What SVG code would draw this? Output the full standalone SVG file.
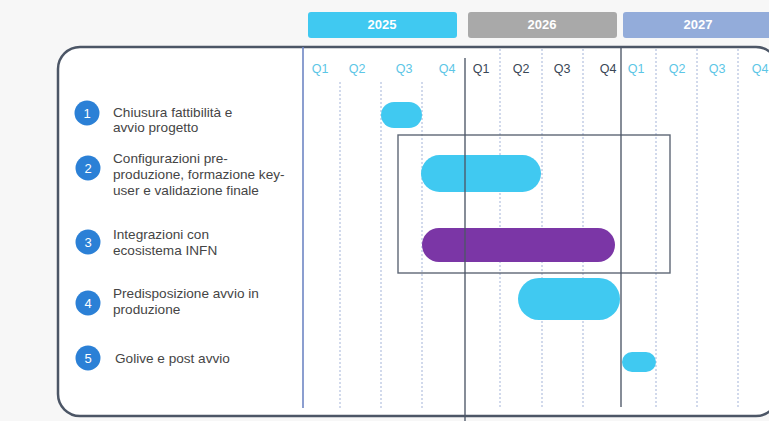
<svg xmlns="http://www.w3.org/2000/svg" width="769" height="421" viewBox="0 0 769 421">
<style>
.lbl{font-family:"Liberation Sans",Arial,sans-serif;font-size:13.6px;fill:#454545}
.num{font-family:"Liberation Sans",Arial,sans-serif;font-size:13px;fill:#fff;text-anchor:middle}
.yr{font-family:"Liberation Sans",Arial,sans-serif;font-size:13px;font-weight:bold;fill:#fff;text-anchor:middle}
.qa{font-family:"Liberation Sans",Arial,sans-serif;font-size:12.5px;fill:#5cc6e6;text-anchor:middle}
.qb{font-family:"Liberation Sans",Arial,sans-serif;font-size:12.5px;fill:#3a4756;text-anchor:middle}
.dot{stroke:#a3b3d8;stroke-width:1;stroke-dasharray:2 2;fill:none}
.solid{stroke:#4c5666;stroke-width:1.6;fill:none}
.bar{fill:#40c9f1}
.circ{fill:#2b80d6}
</style>
<rect x="0" y="0" width="769" height="421" fill="#f7f7f7"/>
<g id="years">
<rect x="308" y="12" width="149" height="26" rx="3" fill="#40c9f1"/>
<text class="yr" x="382" y="29">2025</text>
<rect x="468" y="12" width="149" height="26" rx="3" fill="#a9a9a9"/>
<text class="yr" x="542" y="29">2026</text>
<rect x="623" y="12" width="160" height="26" rx="3" fill="#93acda"/>
<text class="yr" x="698" y="29">2027</text>
</g>
<g id="frame">
<rect x="58" y="47" width="720" height="369" rx="22" fill="#fff" stroke="#4c5666" stroke-width="2.5"/>
</g>
<g id="quarters">
<text class="qa" x="320" y="73">Q1</text>
<text class="qa" x="357" y="73">Q2</text>
<text class="qa" x="404" y="73">Q3</text>
<text class="qa" x="447" y="73">Q4</text>
<text class="qb" x="481" y="73">Q1</text>
<text class="qb" x="521" y="73">Q2</text>
<text class="qb" x="562" y="73">Q3</text>
<text class="qb" x="608" y="73">Q4</text>
<text class="qa" x="636" y="73">Q1</text>
<text class="qa" x="677" y="73">Q2</text>
<text class="qa" x="717" y="73">Q3</text>
<text class="qa" x="760" y="73">Q4</text>
</g>
<g id="grid">
<line class="dot" x1="340" y1="82" x2="340" y2="408"/>
<line class="dot" x1="381" y1="82" x2="381" y2="408"/>
<line class="dot" x1="422" y1="82" x2="422" y2="408"/>
<line class="dot" x1="500" y1="49" x2="500" y2="408"/>
<line class="dot" x1="542" y1="49" x2="542" y2="408"/>
<line class="dot" x1="583" y1="49" x2="583" y2="408"/>
<line class="dot" x1="656" y1="49" x2="656" y2="408"/>
<line class="dot" x1="697" y1="49" x2="697" y2="408"/>
<line class="dot" x1="738" y1="49" x2="738" y2="408"/>
</g>
<g id="bar1"><rect class="bar" x="381" y="102" width="41" height="26" rx="13"/></g>
<g id="bar2"><rect class="bar" x="421" y="155" width="120" height="37" rx="18.5"/></g>
<g id="bar3"><rect x="422" y="228" width="193" height="34" rx="17" fill="#7b36a6"/></g>
<g id="bar4"><rect class="bar" x="518" y="278" width="102" height="42" rx="21"/></g>
<g id="bar5"><rect class="bar" x="622" y="352" width="34" height="20" rx="10"/></g>
<g id="connectors">
<line x1="303" y1="47" x2="303" y2="408" stroke="#6f86c4" stroke-width="1.6"/>
<line class="solid" x1="465" y1="58" x2="465" y2="421" stroke-opacity="0.85"/>
<line class="solid" x1="621" y1="47" x2="621" y2="407" stroke-opacity="0.85"/>
<rect x="398" y="135" width="272" height="138" fill="none" stroke="#4c5666" stroke-width="1.4" stroke-opacity="0.9"/>
</g>
<g id="item1">
<circle class="circ" cx="87" cy="113" r="12.5"/><text class="num" x="87" y="118">1</text>
<text class="lbl" x="113" y="117">Chiusura fattibilità e</text>
<text class="lbl" x="113" y="132">avvio progetto</text>
</g>
<g id="item2">
<circle class="circ" cx="88" cy="168" r="12.5"/><text class="num" x="88" y="173">2</text>
<text class="lbl" x="113" y="163">Configurazioni pre-</text>
<text class="lbl" x="113" y="179">produzione, formazione key-</text>
<text class="lbl" x="113" y="195">user e validazione finale</text>
</g>
<g id="item3">
<circle class="circ" cx="88" cy="242" r="12.5"/><text class="num" x="88" y="247">3</text>
<text class="lbl" x="113" y="239">Integrazioni con</text>
<text class="lbl" x="113" y="255">ecosistema INFN</text>
</g>
<g id="item4">
<circle class="circ" cx="88" cy="303" r="12.5"/><text class="num" x="88" y="308">4</text>
<text class="lbl" x="113" y="298">Predisposizione avvio in</text>
<text class="lbl" x="113" y="314">produzione</text>
</g>
<g id="item5">
<circle class="circ" cx="88" cy="358" r="12.5"/><text class="num" x="88" y="363">5</text>
<text class="lbl" x="115" y="363">Golive e post avvio</text>
</g>
</svg>
